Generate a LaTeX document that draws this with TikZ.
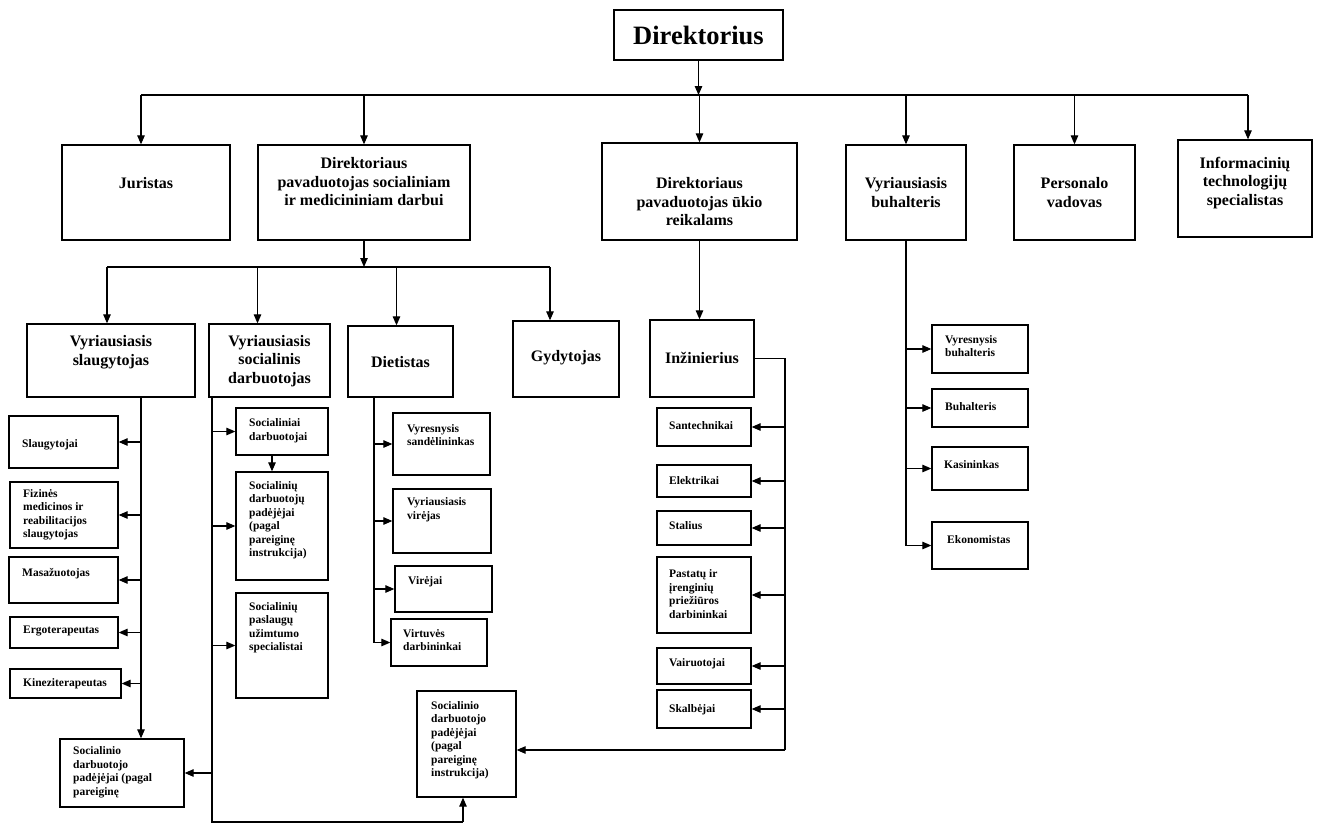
\documentclass[tikz,border=0pt]{standalone}
\usepackage{fontspec}
\setmainfont{Liberation Serif}
\usetikzlibrary{arrows.meta}

\newcommand\fsTop{\fontsize{26.5}{30}\selectfont\bfseries}
\newcommand\fsBig{\fontsize{16}{18.5}\selectfont\bfseries}
\newcommand\fsSm{\fontsize{11.5}{13.5}\selectfont\bfseries}

\tikzset{
  box/.style={draw, line width=1.3pt, inner sep=0pt},
  ttl/.style={inner sep=0pt, align=center, font=\fsBig},
  stxt/.style={inner sep=0pt, align=left, anchor=west, font=\fsSm},
  ln/.style={line width=1.1pt},
  arr/.style={line width=1.1pt, -{Triangle[length=9pt,width=7.5pt]}},
}

\begin{document}
\begin{tikzpicture}[x=1pt, y=-1pt]
\useasboundingbox[fill=white] (0,0) rectangle (1318,825);

% ---------- top level ----------
\node[box, minimum width=169pt, minimum height=50pt] (dir) at (698.5,35) {};
\node[inner sep=0pt, font=\fsTop] at (698.5,35) {Direktorius};

% ---------- first row ----------
\node[box, minimum width=168pt, minimum height=95pt] (jur)  at (146,192.5) {};
\node[box, minimum width=212pt, minimum height=95pt] (dsoc) at (364,192.5) {};
\node[box, minimum width=195pt, minimum height=97pt] (duk)  at (699.5,191.5) {};
\node[box, minimum width=120pt, minimum height=95pt] (vbuh) at (906,192.5) {};
\node[box, minimum width=121pt, minimum height=95pt] (pers) at (1074.5,192.5) {};
\node[box, minimum width=134pt, minimum height=97pt] (it)   at (1245,188.5) {};

\node[ttl] at (146,183) {Juristas};
\node[ttl] at (364,182) {Direktoriaus\\pavaduotojas socialiniam\\ir medicininiam darbui};
\node[ttl] at (699.5,202) {Direktoriaus\\pavaduotojas ūkio\\reikalams};
\node[ttl] at (906,192.5) {Vyriausiasis\\buhalteris};
\node[ttl] at (1074.5,192.5) {Personalo\\vadovas};
\node[ttl] at (1245,183) {Informacinių\\technologijų\\specialistas};

% ---------- second row ----------
\node[box, minimum width=168pt, minimum height=73pt] (slaug) at (111,360.5) {};
\node[box, minimum width=121pt, minimum height=73pt] (socd)  at (269.5,360.5) {};
\node[box, minimum width=105pt, minimum height=71pt] (diet)  at (400.5,361.5) {};
\node[box, minimum width=106pt, minimum height=76pt] (gyd)   at (566,359) {};
\node[box, minimum width=104pt, minimum height=77pt] (inz)   at (702,358.5) {};

\node[ttl] at (111,352) {Vyriausiasis\\slaugytojas};
\node[ttl] at (269.5,361) {Vyriausiasis\\socialinis\\darbuotojas};
\node[ttl] at (400.5,362) {Dietistas};
\node[ttl] at (566,358) {Gydytojas};
\node[ttl] at (702,358) {Inžinierius};

% ---------- nursing column ----------
\node[box, minimum width=109pt, minimum height=52pt] (sl1) at (63.5,442) {};
\node[box, minimum width=108pt, minimum height=66pt] (sl2) at (64,515) {};
\node[box, minimum width=109pt, minimum height=46pt] (sl3) at (63.5,580) {};
\node[box, minimum width=108pt, minimum height=31pt] (sl4) at (64,632.5) {};
\node[box, minimum width=111pt, minimum height=29pt] (sl5) at (65.5,683.5) {};
\node[box, minimum width=124pt, minimum height=68pt] (sl6) at (122,773) {};

\node[stxt] at (22,445) {Slaugytojai};
\node[stxt] at (23,515) {Fizinės\\medicinos ir\\reabilitacijos\\slaugytojas};
\node[stxt] at (22,574) {Masažuotojas};
\node[stxt] at (23,631) {Ergoterapeutas};
\node[stxt] at (23,684) {Kineziterapeutas};
\node[stxt] at (73,772.5) {Socialinio\\darbuotojo\\padėjėjai (pagal\\pareiginę};

% ---------- social work column ----------
\node[box, minimum width=92pt, minimum height=47pt]  (sd1) at (282,431.5) {};
\node[box, minimum width=92pt, minimum height=108pt] (sd2) at (282,526) {};
\node[box, minimum width=92pt, minimum height=105pt] (sd3) at (282,645.5) {};

\node[stxt] at (249,430.5) {Socialiniai\\darbuotojai};
\node[stxt] at (249,520) {Socialinių\\darbuotojų\\padėjėjai\\(pagal\\pareiginę\\instrukcija)};
\node[stxt] at (249,627.5) {Socialinių\\paslaugų\\užimtumo\\specialistai};

% ---------- kitchen column ----------
\node[box, minimum width=97pt, minimum height=62pt] (dt1) at (441.5,444) {};
\node[box, minimum width=98pt, minimum height=64pt] (dt2) at (442,521) {};
\node[box, minimum width=97pt, minimum height=46pt] (dt3) at (443.5,589) {};
\node[box, minimum width=96pt, minimum height=47pt] (dt4) at (439,642.5) {};

\node[stxt] at (407,435) {Vyresnysis\\sandėlininkas};
\node[stxt] at (407,509.5) {Vyriausiasis\\virėjas};
\node[stxt] at (408,582) {Virėjai};
\node[stxt] at (403,640) {Virtuvės\\darbininkai};

% ---------- maintenance column ----------
\node[box, minimum width=94pt, minimum height=38pt] (eg1) at (704,427) {};
\node[box, minimum width=94pt, minimum height=32pt] (eg2) at (704,481) {};
\node[box, minimum width=94pt, minimum height=34pt] (eg3) at (704,528) {};
\node[box, minimum width=94pt, minimum height=76pt] (eg4) at (704,595) {};
\node[box, minimum width=94pt, minimum height=36pt] (eg5) at (704,666) {};
\node[box, minimum width=94pt, minimum height=38pt] (eg6) at (704,709) {};

\node[stxt] at (669,426) {Santechnikai};
\node[stxt] at (669,481) {Elektrikai};
\node[stxt] at (669,526) {Stalius};
\node[stxt] at (669,594) {Pastatų ir\\įrenginių\\priežiūros\\darbininkai};
\node[stxt] at (669,664) {Vairuotojai};
\node[stxt] at (669,710) {Skalbėjai};

% social worker assistants (shared)
\node[box, minimum width=99pt, minimum height=106pt] (rsp) at (466.5,744) {};
\node[stxt] at (431,740) {Socialinio\\darbuotojo\\padėjėjai\\(pagal\\pareiginę\\instrukcija)};

% ---------- accounting column ----------
\node[box, minimum width=96pt, minimum height=48pt] (bh1) at (980,349) {};
\node[box, minimum width=96pt, minimum height=38pt] (bh2) at (980,408) {};
\node[box, minimum width=96pt, minimum height=43pt] (bh3) at (980,468.5) {};
\node[box, minimum width=96pt, minimum height=47pt] (bh4) at (980,545.5) {};

\node[stxt] at (945,346) {Vyresnysis\\buhalteris};
\node[stxt] at (945,407) {Buhalteris};
\node[stxt] at (944,465) {Kasininkas};
\node[stxt] at (947,540) {Ekonomistas};

% ---------- connectors: top level ----------
\coordinate (busL) at (141,95);
\coordinate (busR) at (1248,95);
\draw[arr] (dir.south) -- (dir.south |- busL);
\draw[ln] (busL) -- (busR);
\draw[arr] (busL) -- (busL |- jur.north);
\draw[arr] (dsoc.north |- busL) -- (dsoc.north);
\draw[arr] (duk.north |- busL) -- (duk.north);
\draw[arr] (vbuh.north |- busL) -- (vbuh.north);
\draw[arr] (pers.north |- busL) -- (pers.north);
\draw[arr] (busR) -- (busR |- it.north);

% ---------- connectors: second row ----------
\coordinate (b2L) at (107,267);
\coordinate (b2R) at (550,267);
\draw[arr] (dsoc.south) -- (dsoc.south |- b2L);
\draw[ln] (b2L) -- (b2R);
\draw[arr] (b2L) -- (b2L |- slaug.north);
\draw[arr] ([xshift=-12pt]socd.north |- b2L) -- ([xshift=-12pt]socd.north);
\draw[arr] ([xshift=-4pt]diet.north |- b2L) -- ([xshift=-4pt]diet.north);
\draw[arr] (b2R) -- (b2R |- gyd.north);
\draw[arr] (duk.south) -- (duk.south |- inz.north);

% ---------- nursing branches ----------
\coordinate (vL) at ([xshift=30pt]slaug.south);
\draw[arr] (vL) -- (vL |- sl6.north);
\foreach \n in {sl1,sl2,sl3,sl4,sl5}
  \draw[arr] (vL |- \n.east) -- (\n.east);

% ---------- social work branches ----------
\coordinate (vM) at ([xshift=-57.5pt]socd.south);
\coordinate (mB) at (212,822);
\coordinate (mR) at (463,822);
\draw[ln] (vM) -- (mB) -- (mR);
\draw[arr] (mR) -- (mR |- rsp.south);
\foreach \n in {sd1,sd2,sd3}
  \draw[arr] (vM |- \n.west) -- (\n.west);
\draw[arr] (vM |- sl6.east) -- (sl6.east);
\draw[arr] ([xshift=-10pt]sd1.south) -- ([xshift=-10pt]sd1.south |- sd2.north);

% ---------- kitchen branches ----------
\coordinate (vD) at ([xshift=-26.5pt]diet.south);
\draw[ln] (vD) -- (vD |- dt4.west);
\foreach \n in {dt1,dt2,dt3,dt4}
  \draw[arr] (vD |- \n.west) -- (\n.west);

% ---------- maintenance branches ----------
\coordinate (vE) at (785,358.5);
\coordinate (eB) at (785,750);
\draw[ln] (inz.east) -- (vE) -- (eB);
\draw[arr] (eB) -- (eB -| rsp.east);
\foreach \n in {eg1,eg2,eg3,eg4,eg5,eg6}
  \draw[arr] (vE |- \n.east) -- (\n.east);

% ---------- accounting branches ----------
\draw[ln] (vbuh.south) -- (vbuh.south |- bh4.west);
\foreach \n in {bh1,bh2,bh3,bh4}
  \draw[arr] (vbuh.south |- \n.west) -- (\n.west);
\end{tikzpicture}
\end{document}
